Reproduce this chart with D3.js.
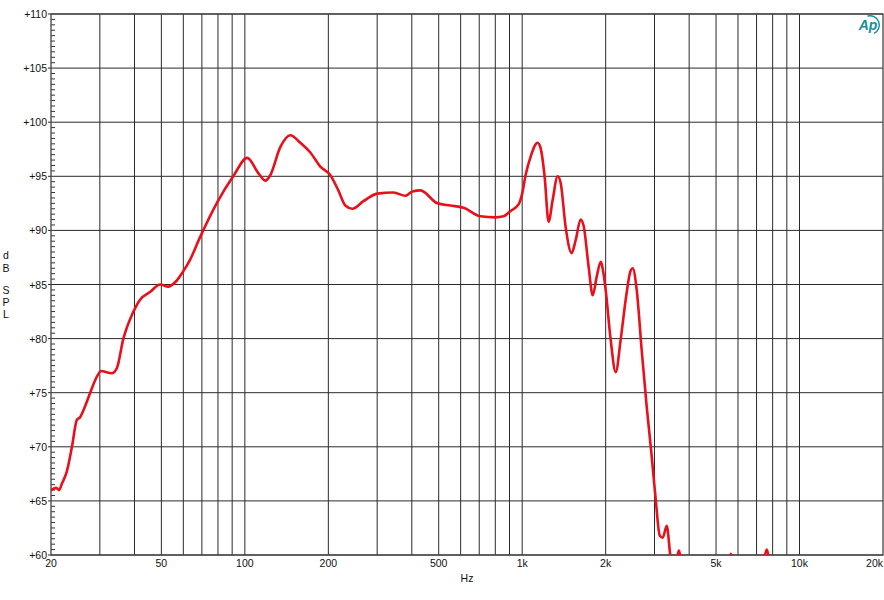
<!DOCTYPE html>
<html>
<head>
<meta charset="utf-8">
<script src="https://cdn.jsdelivr.net/npm/d3@7"></script>
<style>
  body { margin: 0; background: #fff; }
  svg { display: block; font-family: Arial, "Liberation Sans", sans-serif; }
</style>
</head>
<body>
<div id="chart"></div>
<script>
// frequency response (Hz / dB SPL)
var freqs = [20, 20.9, 21.4, 21.9, 22.8, 23.8, 24.8, 25.4, 26.5, 27.7, 29.3, 30.3, 33.2, 34.6,
  36.4, 39.5, 41.9, 45.5, 49.5, 52.9, 56.5, 59.9, 63.5, 69, 79.5, 90.8, 102, 111.8, 118.5,
  123.5, 134.2, 145.9, 158.5, 172.2, 187.1, 203.4, 217.3, 230.3, 244.1, 267.6, 300.6, 343.3,
  379.3, 402, 429.6, 494.9, 551.3, 614.3, 707.8, 801.4, 856.6, 907.8, 970.4, 1000, 1028.6,
  1072.2, 1136.5, 1165.2, 1204.7, 1245.5, 1287.7, 1342.2, 1376, 1434.6, 1508.1, 1559, 1625.1,
  1666.2, 1736.8, 1795.6, 1856.3, 1919, 1967.6, 2000, 2084.9, 2173.3, 2265.6, 2361.8, 2462.1,
  2503.4, 2587.9, 2697.8, 2812.4, 2931.8, 3031, 3133.2, 3212.5, 3320.8, 3433.3, 3549.3,
  3668.9, 3792.9, 4052, 5400, 5655, 5900, 7100, 7624, 8015, 10000, 20000];
var spl = [66.0, 66.2, 66.0, 66.6, 67.7, 70.0, 72.5, 72.7, 73.7, 75.0, 76.5, 77.0, 76.8, 77.3,
  79.9, 82.4, 83.6, 84.3, 85.0, 84.8, 85.3, 86.2, 87.3, 89.4, 92.6, 95.0, 96.7, 95.3, 94.6,
  95.1, 97.7, 98.8, 98.1, 97.2, 95.9, 95.1, 93.7, 92.3, 92.0, 92.7, 93.4, 93.5, 93.2, 93.6,
  93.7, 92.5, 92.3, 92.1, 91.3, 91.2, 91.3, 91.8, 92.4, 93.4, 95.1, 96.8, 98.1, 97.6, 95.0,
  90.8, 92.8, 95.0, 94.4, 90.3, 87.9, 89.1, 91.0, 90.4, 86.6, 84.0, 85.7, 87.1, 85.9, 84.5,
  79.9, 76.9, 79.9, 83.6, 86.3, 86.5, 84.5, 78.9, 73.7, 69.1, 65.1, 61.8, 61.6, 62.7, 59.6,
  58.6, 60.4, 58.2, 56, 56, 60.1, 56, 56, 60.5, 56, 52, 48];

var yTicks = [60, 65, 70, 75, 80, 85, 90, 95, 100, 105, 110];
var xLabels = [20, 50, 100, 200, 500, 1000, 2000, 5000, 10000, 20000];
var xLabelText = ["20", "50", "100", "200", "500", "1k", "2k", "5k", "10k", "20k"];
var axisLetters = ["d", "B", "S", "P", "L"];

var W = 884, H = 600;
var pLeft = 51, pRight = 883, pTop = 14, pBottom = 555;

var svg = d3.select("#chart").append("svg").attr("width", W).attr("height", H);

var x = d3.scaleLog().domain([20, 20000]).range([pLeft, pRight]);
var y = d3.scaleLinear().domain([60, 110]).range([pBottom, pTop]);

// vertical grid: every 1..9 multiple per decade
var gridFreqs = [];
[10, 100, 1000, 10000].forEach(function (dec) {
  for (var m = 1; m <= 9; m++) {
    var f = dec * m;
    if (f > 20 && f < 20000) gridFreqs.push(f);
  }
});

svg.append("g").selectAll("line").data(gridFreqs).enter().append("line")
  .attr("x1", function (d) { return x(d); })
  .attr("x2", function (d) { return x(d); })
  .attr("y1", pTop).attr("y2", pBottom)
  .attr("stroke", "#2a2a2a").attr("stroke-width", 1);

svg.append("g").selectAll("line").data(yTicks).enter().append("line")
  .attr("x1", pLeft - 3).attr("x2", pRight)
  .attr("y1", function (d) { return y(d); })
  .attr("y2", function (d) { return y(d); })
  .attr("stroke", "#2a2a2a").attr("stroke-width", 1);

// minor ticks on the left axis every 0.5 dB
var minor = d3.range(60.5, 110, 0.5).filter(function (d) { return d % 5 !== 0; });
svg.append("g").selectAll("line").data(minor).enter().append("line")
  .attr("x1", pLeft).attr("x2", pLeft + 4)
  .attr("y1", function (d) { return y(d); })
  .attr("y2", function (d) { return y(d); })
  .attr("stroke", "#333").attr("stroke-width", 1);

// frame
svg.append("rect")
  .attr("x", pLeft).attr("y", pTop)
  .attr("width", pRight - pLeft).attr("height", pBottom - pTop)
  .attr("fill", "none").attr("stroke", "#444").attr("stroke-width", 1.3);

// curve
svg.append("clipPath").attr("id", "plotclip").append("rect")
  .attr("x", pLeft).attr("y", pTop - 2)
  .attr("width", pRight - pLeft).attr("height", pBottom - pTop + 2);

var line = d3.line()
  .x(function (d, i) { return x(freqs[i]); })
  .y(function (d) { return y(d); })
  .curve(d3.curveMonotoneX);

svg.append("path")
  .datum(spl)
  .attr("clip-path", "url(#plotclip)")
  .attr("d", line)
  .attr("fill", "none")
  .attr("stroke", "#e8101a")
  .attr("stroke-width", 2.6)
  .attr("stroke-linejoin", "round");

// labels
svg.append("g").selectAll("text").data(yTicks).enter().append("text")
  .attr("x", pLeft - 4)
  .attr("y", function (d) { return y(d) + 4; })
  .attr("text-anchor", "end")
  .attr("font-size", 10.5)
  .attr("fill", "#111")
  .text(function (d) { return "+" + d; });

svg.append("g").selectAll("text").data(xLabels).enter().append("text")
  .attr("x", function (d) { return x(d); })
  .attr("y", 567)
  .attr("text-anchor", function (d, i) { return i === xLabels.length - 1 ? "end" : "middle"; })
  .attr("font-size", 10.5)
  .attr("fill", "#111")
  .text(function (d, i) { return xLabelText[i]; });

svg.append("text")
  .attr("x", 467).attr("y", 582)
  .attr("text-anchor", "middle")
  .attr("font-size", 10.5)
  .attr("fill", "#111")
  .text("Hz");

var letterY = [259, 272, 294, 306, 318];
svg.append("g").selectAll("text").data(axisLetters).enter().append("text")
  .attr("x", 6)
  .attr("y", function (d, i) { return letterY[i]; })
  .attr("text-anchor", "middle")
  .attr("font-size", 10.5)
  .attr("fill", "#111")
  .text(function (d) { return d; });

// Ap logo
var logo = svg.append("g").attr("transform", "translate(870,25)");
logo.append("path")
  .attr("d", d3.arc()({ innerRadius: 8.6, outerRadius: 10, startAngle: -0.3, endAngle: 2.7 }))
  .attr("fill", "#1b8c9c");
logo.append("text")
  .attr("x", -2).attr("y", 5)
  .attr("text-anchor", "middle")
  .attr("font-size", 14)
  .attr("font-weight", "bold")
  .attr("font-style", "italic")
  .attr("fill", "#1b8c9c")
  .text("Ap");
</script>
</body>
</html>
